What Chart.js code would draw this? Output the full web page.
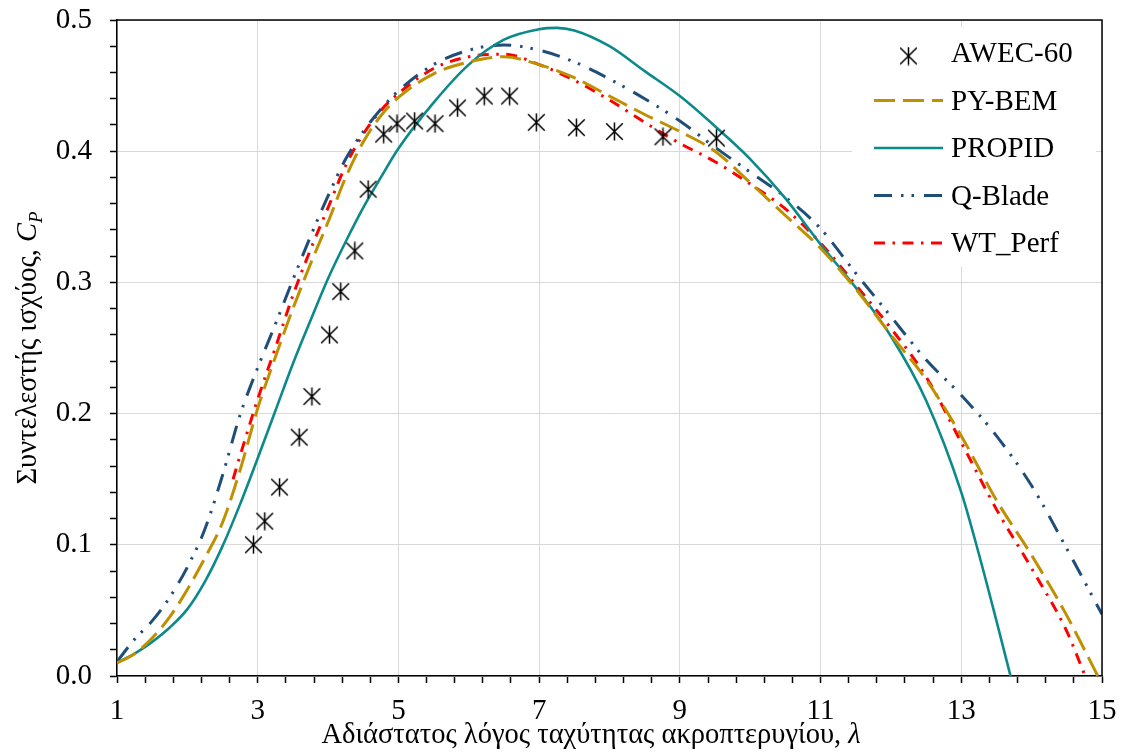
<!DOCTYPE html>
<html lang="el">
<head>
<meta charset="utf-8">
<title>Συντελεστής ισχύος – AWEC-60</title>
<script src="https://cdn.jsdelivr.net/npm/chart.js@4.4.1/dist/chart.umd.min.js"></script>
<style>
  html, body { margin: 0; padding: 0; background: #ffffff; }
  canvas { display: block; }
</style>
</head>
<body>
<canvas id="cp" width="1122" height="752"></canvas>
<script>
// ---- Measured data: AWEC-60 rotor ----
const awecLambda = [2.94, 3.10, 3.31, 3.59, 3.77, 4.02, 4.18, 4.38, 4.57, 4.79, 4.98,
                    5.23, 5.52, 5.84, 6.22, 6.58, 6.96, 7.53, 8.07, 8.76, 9.52];
const awecCp     = [0.100, 0.118, 0.144, 0.182, 0.213, 0.260, 0.293, 0.324, 0.371, 0.413, 0.421,
                    0.423, 0.421, 0.433, 0.442, 0.442, 0.422, 0.418, 0.415, 0.411, 0.410];

// ---- PY-BEM prediction ----
const pyBemLambda = [1.0, 1.25, 1.5, 1.75, 2.0, 2.25, 2.5, 2.75, 3.0, 3.25, 3.5, 3.75, 4.0, 4.25,
                     4.5, 4.75, 5.0, 5.5, 6.0, 6.5, 7.0, 7.5, 8.0, 8.5, 9.0, 9.5, 10.0, 10.5,
                     11.0, 11.5, 12.0, 12.5, 13.0, 13.5, 14.0, 14.5, 14.94];
const pyBemCp     = [0.010, 0.017, 0.029, 0.045, 0.066, 0.090, 0.117, 0.157, 0.204, 0.243, 0.280,
                     0.314, 0.346, 0.380, 0.407, 0.427, 0.441, 0.459, 0.468, 0.472, 0.466, 0.456,
                     0.442, 0.428, 0.415, 0.400, 0.376, 0.351, 0.326, 0.295, 0.260, 0.226, 0.183,
                     0.134, 0.092, 0.046, 0.000];

// ---- PROPID prediction ----
const propidLambda = [1.0, 1.25, 1.5, 1.75, 2.0, 2.25, 2.5, 2.75, 3.0, 3.25, 3.5, 3.75, 4.0, 4.25,
                      4.5, 4.75, 5.0, 5.5, 6.0, 6.5, 7.0, 7.25, 7.5, 8.0, 8.5, 9.0, 9.5, 10.0,
                      10.5, 11.0, 11.5, 12.0, 12.5, 13.0, 13.25, 13.5, 13.7];
const propidCp     = [0.010, 0.017, 0.026, 0.037, 0.051, 0.072, 0.099, 0.131, 0.166, 0.202, 0.238,
                      0.271, 0.303, 0.331, 0.357, 0.380, 0.402, 0.437, 0.466, 0.485, 0.493, 0.494,
                      0.492, 0.480, 0.461, 0.442, 0.419, 0.394, 0.364, 0.329, 0.296, 0.259, 0.210,
                      0.140, 0.093, 0.042, 0.000];

// ---- Q-Blade prediction ----
const qBladeLambda = [1.0, 1.25, 1.5, 1.75, 2.0, 2.25, 2.5, 2.75, 3.0, 3.25, 3.5, 3.75, 4.0, 4.25,
                      4.5, 4.75, 5.0, 5.5, 6.0, 6.5, 7.0, 7.5, 8.0, 8.5, 9.0, 9.5, 10.0, 10.5,
                      11.0, 11.5, 12.0, 12.5, 13.0, 13.5, 14.0, 14.5, 15.0];
const qBladeCp     = [0.011, 0.028, 0.042, 0.060, 0.083, 0.112, 0.153, 0.199, 0.235, 0.268, 0.302,
                      0.335, 0.366, 0.394, 0.415, 0.432, 0.446, 0.466, 0.477, 0.481, 0.477, 0.468,
                      0.455, 0.440, 0.423, 0.403, 0.384, 0.365, 0.341, 0.307, 0.274, 0.241, 0.214,
                      0.183, 0.145, 0.097, 0.047];

// ---- WT_Perf prediction ----
const wtPerfLambda = [2.65, 2.75, 3.0, 3.25, 3.5, 3.75, 4.0, 4.25, 4.5, 4.75, 5.0, 5.5, 6.0, 6.5,
                      7.0, 7.5, 8.0, 8.5, 9.0, 9.5, 10.0, 10.5, 11.0, 11.5, 12.0, 12.5, 13.0,
                      13.5, 14.0, 14.5, 14.76];
const wtPerfCp     = [0.150, 0.168, 0.211, 0.250, 0.290, 0.325, 0.357, 0.389, 0.413, 0.431, 0.444,
                      0.463, 0.472, 0.474, 0.466, 0.454, 0.439, 0.422, 0.406, 0.392, 0.375, 0.356,
                      0.330, 0.298, 0.265, 0.228, 0.178, 0.127, 0.082, 0.034, 0.000];

// ---- Axis ticks ----
const xMin = 1, xMax = 15, xMinorStep = 0.4, xLabelStep = 2;
const yMin = 0, yMax = 0.5, yMinorStep = 0.02, yLabelStep = 0.1;

// ---- Axis titles (plain runs, italic symbols, subscript) ----
const xTitleRuns = [
  { text: 'Αδιάστατος λόγος ταχύτητας ακροπτερυγίου, ', size: 28.5, italic: false, shift: 0 },
  { text: 'λ', size: 28.5, italic: true, shift: 0 }
];
const yTitleRuns = [
  { text: 'Συντελεστής ισχύος, ', size: 28.5, italic: false, shift: 0 },
  { text: 'C', size: 28.5, italic: true, shift: 0 },
  { text: 'P', size: 19, italic: true, shift: 6 }
];

const FONT = "'Liberation Serif', 'Times New Roman', serif";
const TICK_SIZE = 29;

function pairs(xs, ys) { return xs.map((x, i) => ({ x: x, y: ys[i] })); }
function onStep(v, origin, step) {
  const k = (v - origin) / step;
  return Math.abs(k - Math.round(k)) < 1e-6;
}

// Asterisk marker: an "X" crossed by a vertical stroke
function asteriskMarker(size, lw) {
  const c = document.createElement('canvas');
  c.width = size; c.height = size;
  const g = c.getContext('2d');
  const h = size / 2, r = size / 2 - 1.2;
  g.strokeStyle = '#000000';
  g.lineWidth = lw;
  g.beginPath();
  g.moveTo(h - r, h - r); g.lineTo(h + r, h + r);
  g.moveTo(h + r, h - r); g.lineTo(h - r, h + r);
  g.moveTo(h, h - r - 0.8); g.lineTo(h, h + r + 0.8);
  g.stroke();
  return c;
}
const starMarker = asteriskMarker(19, 1.5);

// Legend geometry (inside the plot, top-right, on a white panel)
const legendBox = { x: 852, y: 27, w: 244, h: 240, fontSize: 29,
                    firstBaseline: 62, rowGap: 47.5, lineRise: 9,
                    sampleX0: 874, sampleX1: 943, textX: 951 };

const insideLegend = {
  id: 'insideLegend',
  afterDatasetsDraw(chart) {
    const o = legendBox, ctx = chart.ctx;
    ctx.save();
    ctx.fillStyle = '#ffffff';
    ctx.fillRect(o.x, o.y, o.w, o.h);
    ctx.font = o.fontSize + 'px ' + FONT;
    ctx.textAlign = 'left';
    ctx.textBaseline = 'alphabetic';
    chart.data.datasets.forEach((ds, i) => {
      const base = o.firstBaseline + i * o.rowGap;
      const ly = base - o.lineRise;
      if (ds.showLine) {
        ctx.beginPath();
        ctx.strokeStyle = ds.borderColor;
        ctx.lineWidth = ds.borderWidth;
        ctx.setLineDash(ds.borderDash || []);
        ctx.lineDashOffset = 0;
        ctx.moveTo(o.sampleX0, ly);
        ctx.lineTo(o.sampleX1, ly);
        ctx.stroke();
        ctx.setLineDash([]);
      } else {
        const m = ds.pointStyle;
        ctx.drawImage(m, (o.sampleX0 + o.sampleX1) / 2 - m.width / 2, ly + 3 - m.height / 2);
      }
      ctx.fillStyle = '#000000';
      ctx.fillText(ds.label, o.textX, base);
    });
    ctx.restore();
  }
};

function runFont(r) { return (r.italic ? 'italic ' : '') + r.size + 'px ' + FONT; }
function runsWidth(ctx, runs) {
  let w = 0;
  runs.forEach(r => { ctx.font = runFont(r); w += ctx.measureText(r.text).width; });
  return w;
}
function drawRuns(ctx, runs, startX, baseline) {
  let x = startX;
  runs.forEach(r => {
    ctx.font = runFont(r);
    ctx.fillText(r.text, x, baseline + r.shift);
    x += ctx.measureText(r.text).width;
  });
}

// Frame (top and right edges) and the two axis titles
const titlePos = { xCenter: 591, xBaseline: 743, yBaseline: 36 };
const frameAndTitles = {
  id: 'frameAndTitles',
  afterDraw(chart) {
    const ctx = chart.ctx, a = chart.chartArea;
    ctx.save();
    ctx.strokeStyle = '#000000';
    ctx.lineWidth = 1.5;
    ctx.beginPath();
    ctx.moveTo(a.left, a.top);
    ctx.lineTo(a.right, a.top);
    ctx.lineTo(a.right, a.bottom);
    ctx.stroke();

    ctx.fillStyle = '#000000';
    ctx.textAlign = 'left';
    ctx.textBaseline = 'alphabetic';
    const xw = runsWidth(ctx, xTitleRuns);
    drawRuns(ctx, xTitleRuns, titlePos.xCenter - xw / 2, titlePos.xBaseline);

    const yw = runsWidth(ctx, yTitleRuns);
    ctx.translate(titlePos.yBaseline, (a.top + a.bottom) / 2);
    ctx.rotate(-Math.PI / 2);
    drawRuns(ctx, yTitleRuns, -yw / 2, 0);
    ctx.restore();
  }
};

function noEdgePadding(scale) {
  scale.paddingTop = 0; scale.paddingBottom = 0;
  scale.paddingLeft = 0; scale.paddingRight = 0;
}

const lineBase = { showLine: true, pointRadius: 0, pointHoverRadius: 0, fill: false,
                   cubicInterpolationMode: 'monotone' };

new Chart(document.getElementById('cp'), {
  type: 'scatter',
  data: {
    datasets: [
      { label: 'AWEC-60', data: pairs(awecLambda, awecCp), showLine: false,
        pointStyle: starMarker, pointRadius: 9, borderColor: '#000000', backgroundColor: '#000000' },
      Object.assign({ label: 'PY-BEM', data: pairs(pyBemLambda, pyBemCp),
        borderColor: '#BF9000', borderWidth: 3, borderDash: [21, 8] }, lineBase),
      Object.assign({ label: 'PROPID', data: pairs(propidLambda, propidCp),
        borderColor: '#0C8A8A', borderWidth: 2.6, borderDash: [] }, lineBase),
      Object.assign({ label: 'Q-Blade', data: pairs(qBladeLambda, qBladeCp),
        borderColor: '#1F4E79', borderWidth: 3, borderDash: [18, 9, 2.5, 8, 2.5, 10] }, lineBase),
      Object.assign({ label: 'WT_Perf', data: pairs(wtPerfLambda, wtPerfCp),
        borderColor: '#FF0000', borderWidth: 3, borderDash: [11, 7.5, 2.5, 7.5] }, lineBase)
    ]
  },
  options: {
    responsive: false,
    animation: false,
    devicePixelRatio: 1,
    layout: { padding: { left: 0, right: 20, top: 20, bottom: 0 } },
    plugins: {
      legend: { display: false },
      tooltip: { enabled: false }
    },
    scales: {
      x: {
        type: 'linear', position: 'bottom', min: xMin, max: xMax,
        afterFit(scale) { scale.height = 76; noEdgePadding(scale); },
        ticks: {
          stepSize: xMinorStep, autoSkip: false, maxRotation: 0, padding: 11,
          color: '#000000', font: { family: FONT, size: TICK_SIZE },
          callback: v => onStep(v, xMin, xLabelStep) ? String(Math.round(v)) : ''
        },
        grid: {
          color: c => (c.tick && onStep(c.tick.value, xMin, xLabelStep)) ? '#D9D9D9' : 'rgba(0,0,0,0)',
          lineWidth: 1, drawTicks: true, tickLength: 7, tickColor: '#000000', tickWidth: 1.5
        },
        border: { color: '#000000', width: 1.5 }
      },
      y: {
        type: 'linear', position: 'left', min: yMin, max: yMax,
        afterFit(scale) { scale.width = 117; noEdgePadding(scale); },
        ticks: {
          stepSize: yMinorStep, autoSkip: false, padding: 18,
          color: '#000000', font: { family: FONT, size: TICK_SIZE },
          callback: v => onStep(v, yMin, yLabelStep) ? v.toFixed(1) : ''
        },
        grid: {
          color: c => (c.tick && onStep(c.tick.value, yMin, yLabelStep)) ? '#D9D9D9' : 'rgba(0,0,0,0)',
          lineWidth: 1, drawTicks: true, tickLength: 7, tickColor: '#000000', tickWidth: 1.5
        },
        border: { color: '#000000', width: 1.5 }
      }
    }
  },
  plugins: [insideLegend, frameAndTitles]
});
</script>
</body>
</html>
